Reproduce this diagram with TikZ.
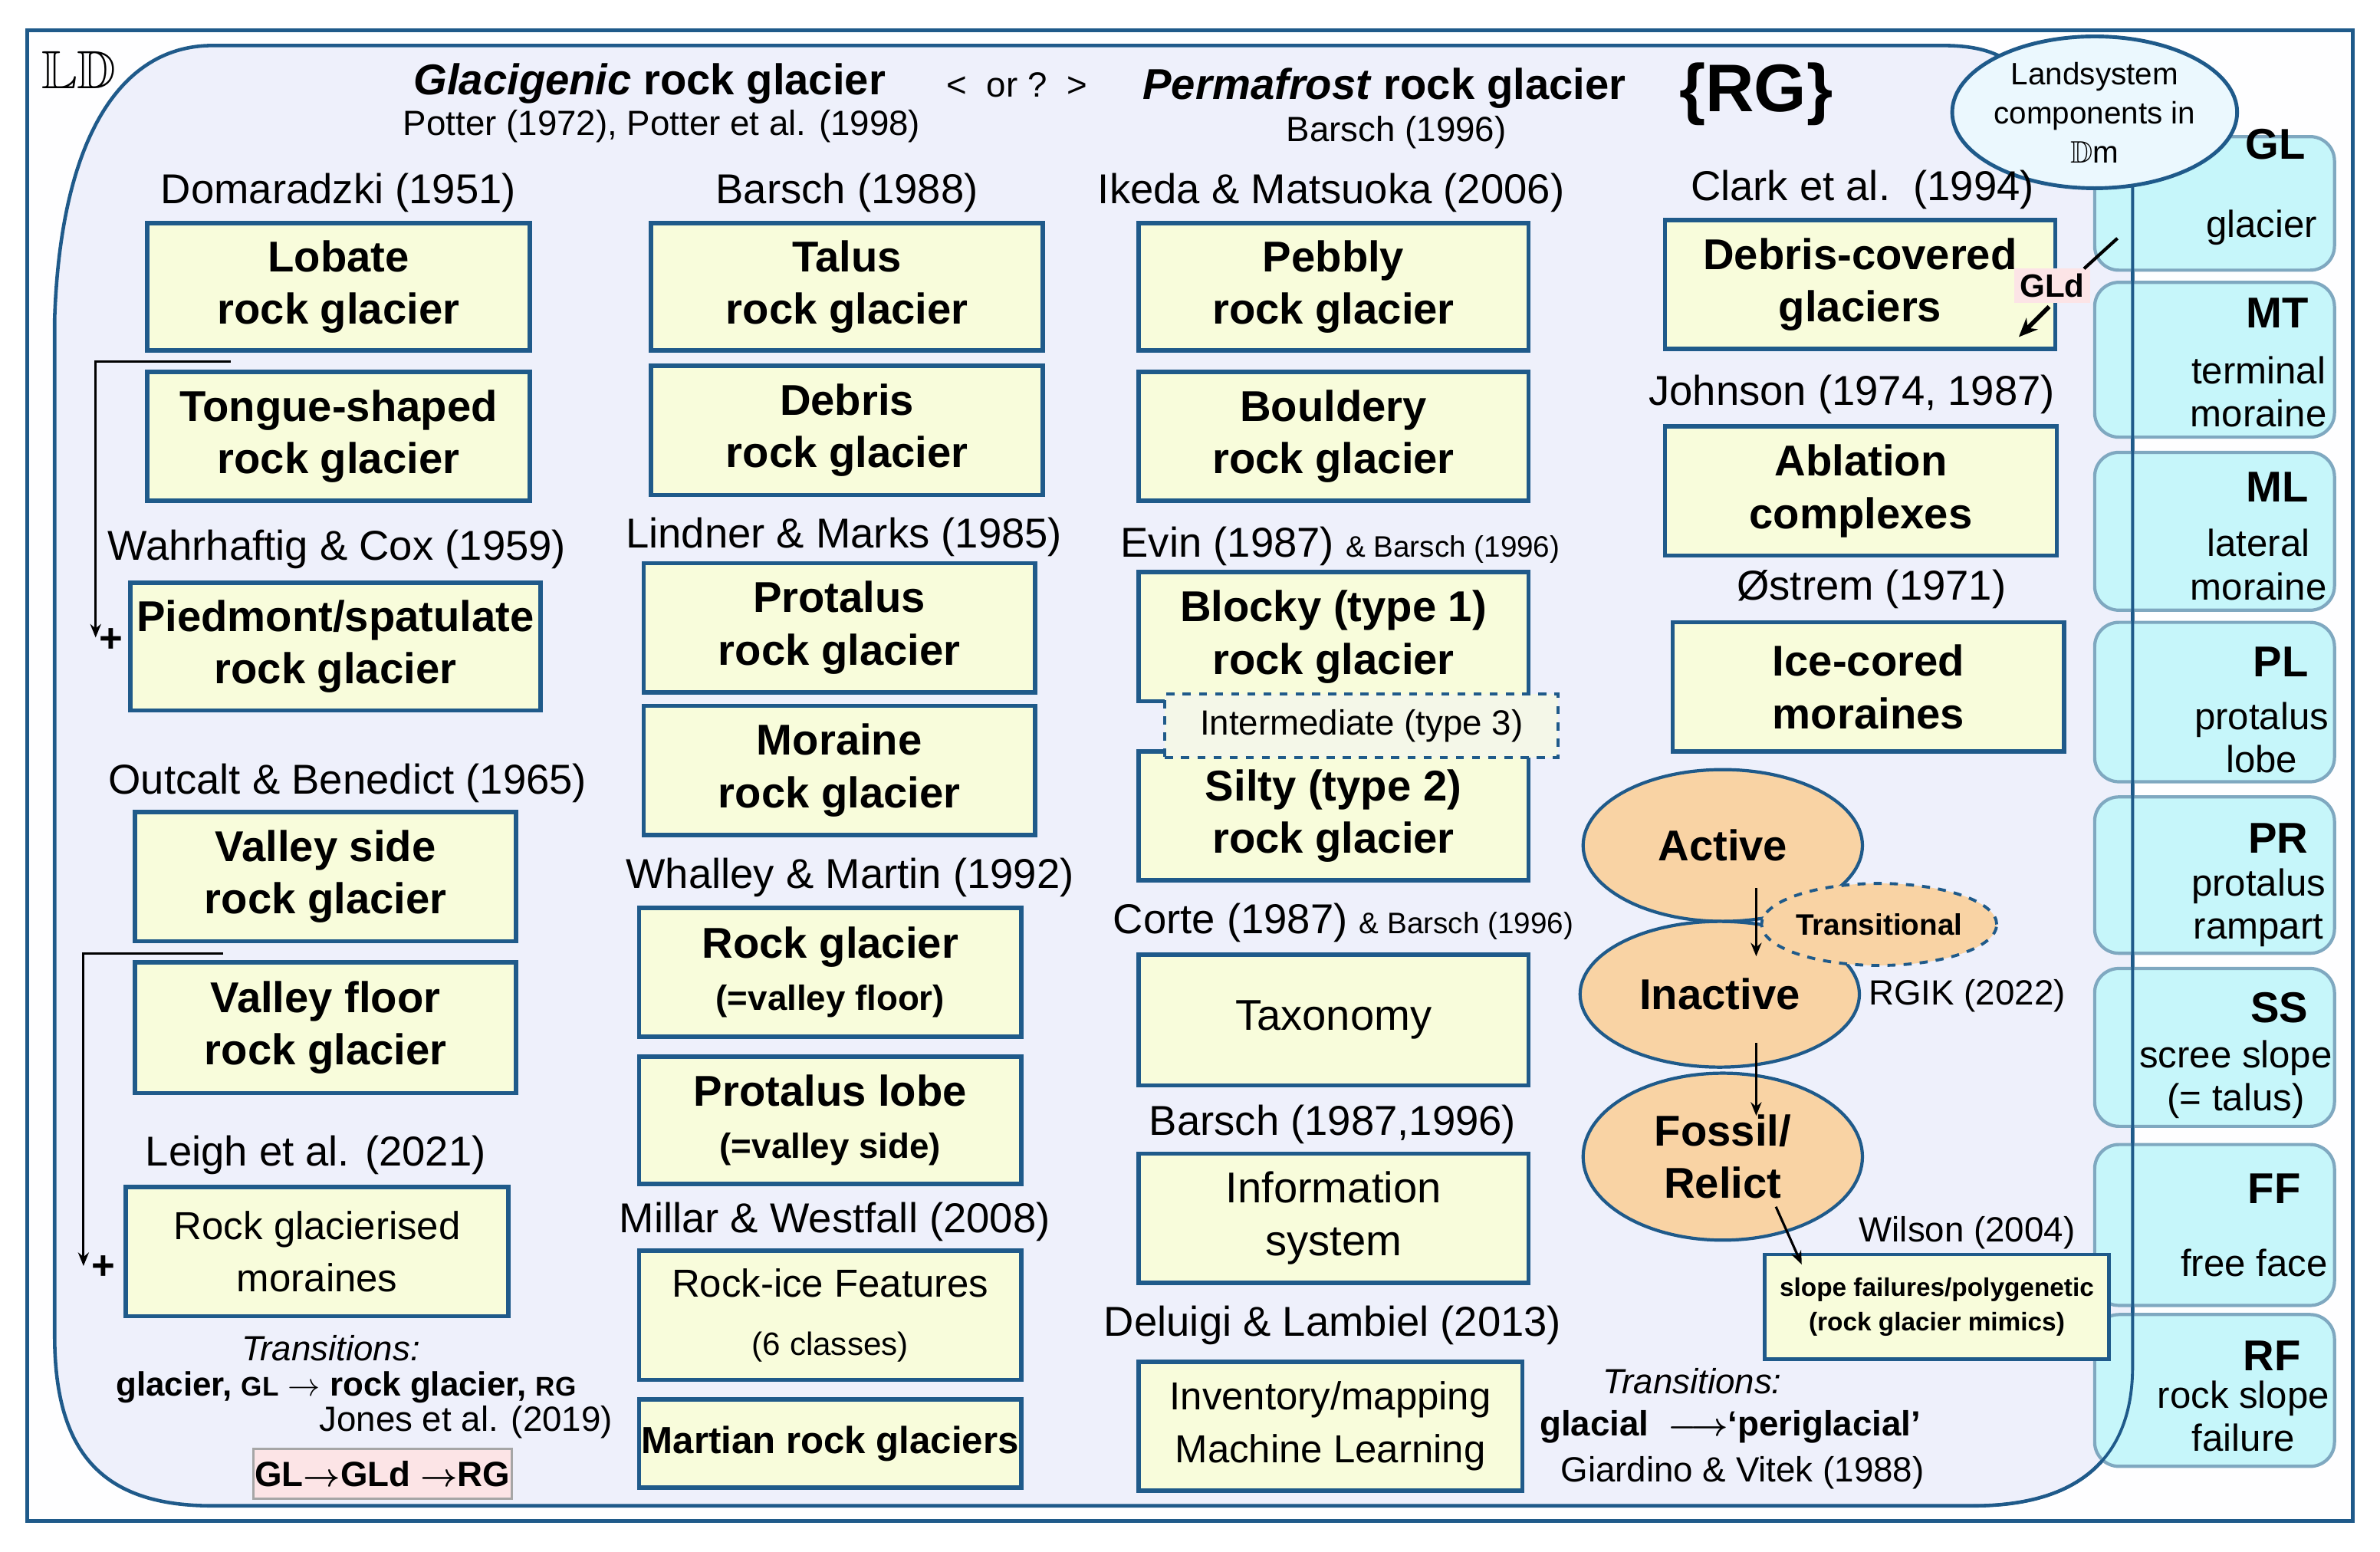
\documentclass[tikz,border=0pt]{standalone}
\usepackage{amsmath}
\usepackage{amssymb}
\usepackage{fontspec}
\setmainfont{Liberation Sans}
\usetikzlibrary{shapes.geometric,arrows.meta}
\definecolor{frameb}{HTML}{1F5A8A}
\definecolor{boxy}{HTML}{F8FCDB}
\definecolor{lav}{HTML}{EEF0FB}
\definecolor{cyanb}{HTML}{C6F6FA}
\definecolor{cyanl}{HTML}{7FA8C0}
\definecolor{orangef}{HTML}{F9D3A4}
\definecolor{pinkf}{HTML}{FCE4E6}
\newcommand\fs[1]{\fontsize{#1}{\dimexpr #1pt*6/5\relax}\selectfont}
\tikzset{
 box/.style={draw=frameb,line width=1.6pt,fill=boxy,inner sep=0pt,align=center,font=\fontsize{16}{19.5}\selectfont\bfseries},
 hd/.style={font=\fontsize{15.5}{18}\selectfont,inner sep=0pt},
 sbox/.style={draw=cyanl,line width=1.2pt,fill=cyanb,rounded corners=9pt,inner sep=0pt},
 ell/.style={ellipse,draw=frameb,line width=1.2pt,fill=orangef,inner sep=0pt,align=center,font=\fontsize{16}{19.5}\selectfont\bfseries},
 arr/.style={-{Stealth[length=5pt,width=4pt]},line width=0.9pt},
}
\newcommand\bx[6]{\node[box,minimum width={(#4-#2)*0.0198cm},minimum height={(#5-#3)*0.0198cm}] (#1) at ({(#2+#4)/2},{(#3+#5)/2}) {#6};}
\newcommand\sidebox[3]{\node[sbox,minimum width={(1538-1380)*0.0198cm},minimum height={(#3-#2)*0.0198cm}] (#1) at (1459,{(#2+#3)/2}) {};}
\begin{document}
\begin{tikzpicture}[x=0.0198cm,y=-0.0198cm]
\useasboundingbox (0,0) rectangle (1568,1022.4);
\fill[white] (0,0) rectangle (1568,1022.4);
\draw[frameb,line width=1.5pt,fill=white!92!lav] (18,20) rectangle (1550,1002);
% inner region
\draw[frameb,line width=1.3pt,fill=lav] (36,880) -- (36,210) .. controls (40,90) and (80,30) .. (140,30) -- (1280,30) .. controls (1310,30) and (1320,38) .. (1330,45)
 -- (1405,110) -- (1405,900) .. controls (1405,960) and (1370,992) .. (1300,992) -- (140,992) .. controls (70,992) and (36,960) .. (36,880) -- cycle;
% right column
\sidebox{gl}{90}{178}
\sidebox{mt}{186}{288}
\sidebox{ml}{298}{402}
\sidebox{pl}{410}{515}
\sidebox{pr}{525}{628}
\sidebox{ss}{638}{742}
\sidebox{ff}{754}{860}
\sidebox{rf}{866}{966}
\draw[frameb,line width=1.1pt] (1405,115) -- (1405,900) .. controls (1405,960) and (1370,992) .. (1300,992);
\node[ellipse,draw=frameb,line width=1.4pt,fill=cyan!8,minimum width={158*0.0198cm},minimum height={100*0.0198cm},inner sep=0pt,align=center,font=\fontsize{11.5}{14.5}\selectfont] (ls) at (1380,74) {Landsystem\\components in\\$\mathbb{D}$m};
\begin{scope}[font=\fontsize{16}{18}\selectfont\bfseries]
\node[anchor=east] (tgl) at (1525,95) {GL};
\node[anchor=east] (tmt) at (1527,206) {MT};
\node[anchor=east] (tml) at (1527,321) {ML};
\node[anchor=east] (tpl) at (1527,436) {PL};
\node[anchor=east] (tpr) at (1527,552) {PR};
\node[anchor=east] (tss) at (1527,664) {SS};
\node[anchor=east] (tff) at (1522,783) {FF};
\node[anchor=east] (trf) at (1522,893) {RF};
\end{scope}
\begin{scope}[font=\fontsize{14}{16}\selectfont,align=center,inner sep=0pt]
\node[anchor=east] (dgl) at (1527,150) {glacier};
\node (dmt) at (1488,258) {terminal\\moraine};
\node (dml) at (1488,372) {lateral\\moraine};
\node (dpl) at (1490,486) {protalus\\lobe};
\node (dpr) at (1488,598) {protalus\\rampart};
\node (dss) at (1473,711) {scree slope\\(= talus)};
\node (dff) at (1485,832) {free face};
\node (drf) at (1478,933) {rock slope\\failure};
\end{scope}
% header
\node[font=\fontsize{20}{22}\selectfont] (ld) at (52,46) {$\mathbb{LD}$};
\node[font=\fontsize{16}{18}\selectfont\bfseries] (t1) at (428,55) {\textit{Glacigenic} rock glacier};
\node[font=\fontsize{13}{15}\selectfont] (t1s) at (436,83) {Potter (1972), Potter et al. (1998)};
\node[font=\fontsize{13}{15}\selectfont] (or) at (670,56) {<\ \ or ?\ \ >};
\node[font=\fontsize{16}{18}\selectfont\bfseries] (t2) at (912,58) {\textit{Permafrost} rock glacier};
\node[font=\fontsize{13}{15}\selectfont] (t2s) at (920,87) {Barsch (1996)};
\node[font=\fontsize{25}{28}\selectfont\bfseries] (rg) at (1157,62) {\{RG\}};
% column 1
\node[hd] (h11) at (223,127) {Domaradzki (1951)};
\bx{lob}{97}{147}{349}{231}{Lobate\\rock glacier}
\bx{ton}{97}{245}{349}{330}{Tongue-shaped\\rock glacier}
\node[hd] (h12) at (222,362) {Wahrhaftig \& Cox (1959)};
\bx{pie}{86}{384}{356}{468}{Piedmont/spatulate\\rock glacier}
\node[hd] (h13) at (229,516) {Outcalt \& Benedict (1965)};
\bx{vsd}{89}{535}{340}{620}{Valley side\\rock glacier}
\bx{vfl}{89}{634}{340}{720}{Valley floor\\rock glacier}
\node[hd] (h14) at (208,761) {Leigh et al. (2021)};
\bx{rgm}{83}{782}{335}{867}{\mdseries\fs{14.5}Rock glacierised\\\mdseries\fs{14.5}moraines}
\coordinate (b1a) at (152,238); \coordinate (b1b) at (63,238); \coordinate (b1c) at (63,420);
\draw[arr] (b1a) -- (b1b) -- (b1c);
\node[font=\fontsize{15}{15}\selectfont\bfseries] (p1) at (73,422) {+};
\coordinate (b2a) at (147,628); \coordinate (b2b) at (55,628); \coordinate (b2c) at (55,834);
\draw[arr] (b2a) -- (b2b) -- (b2c);
\node[font=\fontsize{15}{15}\selectfont\bfseries] (p2) at (68,835) {+};
\node[font=\fontsize{13}{15}\selectfont\itshape] (tr1) at (218,888) {Transitions:};
\node[font=\fontsize{12.5}{15}\selectfont\bfseries] (tr2) at (228,914) {glacier, {\fs{10}GL} $\rightarrow$ rock glacier, {\fs{10}RG}};
\node[font=\fontsize{13}{15}\selectfont] (tr3) at (307,937) {Jones et al. (2019)};
\node[draw=gray!70,fill=pinkf,line width=0.8pt,minimum width={170*0.0198cm},minimum height={33*0.0198cm},inner sep=0pt,font=\fontsize{13}{15}\selectfont\bfseries] (tr4) at (252,971) {GL$\boldsymbol{\rightarrow}$GLd $\boldsymbol{\rightarrow}$RG};
% column 2
\node[hd] (h21) at (558,127) {Barsch (1988)};
\bx{tal}{429}{147}{687}{231}{Talus\\rock glacier}
\bx{deb}{429}{241}{687}{326}{Debris\\rock glacier}
\node[hd] (h22) at (556,354) {Lindner \& Marks (1985)};
\bx{pro}{424}{371}{682}{456}{Protalus\\rock glacier}
\bx{mor}{424}{465}{682}{550}{Moraine\\rock glacier}
\node[hd] (h23) at (560,578) {Whalley \& Martin (1992)};
\bx{rgv}{421}{598}{673}{683}{Rock glacier\\{\fs{13}(=valley floor)}}
\bx{plv}{421}{696}{673}{780}{Protalus lobe\\{\fs{13}(=valley side)}}
\node[hd] (h24) at (550,805) {Millar \& Westfall (2008)};
\bx{rif}{421}{824}{673}{909}{\mdseries\fs{14.5}Rock-ice Features\\[2pt]{\mdseries\fs{12}(6 classes)}}
\bx{mar}{421}{922}{673}{980}{\fs{14}Martian rock glaciers}
% column 3
\node[hd] (h31) at (877,127) {Ikeda \& Matsuoka (2006)};
\bx{peb}{750}{147}{1007}{231}{Pebbly\\rock glacier}
\bx{bou}{750}{245}{1007}{330}{Bouldery\\rock glacier}
\node[hd] (h32) at (883,360) {Evin (1987) {\fs{11}\& Barsch (1996)}};
\bx{blo}{750}{377}{1007}{462}{Blocky (type 1)\\rock glacier}
\bx{sil}{750}{495}{1007}{580}{Silty (type 2)\\rock glacier}
\node[draw=frameb,dashed,line width=1.2pt,fill=lav!40!boxy,minimum width={259*0.0198cm},minimum height={42*0.0198cm},inner sep=0pt,font=\fontsize{13}{15}\selectfont] (int) at (897,478) {Intermediate (type 3)};
\node[hd] (h33) at (885,608) {Corte (1987) {\fs{11}\& Barsch (1996)}};
\bx{tax}{750}{629}{1007}{715}{\mdseries Taxonomy}
\node[hd] (h34) at (878,741) {Barsch (1987,1996)};
\bx{inf}{750}{760}{1007}{845}{\mdseries Information\\\mdseries system}
\node[hd] (h35) at (878,873) {Deluigi \& Lambiel (2013)};
\bx{inv}{750}{897}{1003}{982}{\mdseries\fs{14.5}Inventory/mapping\\\mdseries\fs{14.5}Machine Learning}
% column 4
\node[hd] (h41) at (1227,125) {Clark et al.\ \ (1994)};
\bx{dcg}{1097}{145}{1354}{230}{Debris-covered\\glaciers}
\node[fill=pinkf,inner sep=2pt,font=\fontsize{12}{14}\selectfont\bfseries] (gld) at (1352,188) {GLd};
\coordinate (g1) at (1395,157); \coordinate (g2) at (1373,177);
\draw[line width=1.2pt] (g1) -- (g2);
\coordinate (g3) at (1350,202); \coordinate (g4) at (1330,222);
\draw[-{Stealth[length=7pt,width=6pt]},line width=1.6pt] (g3) -- (g4);
\node[hd] (h42) at (1220,260) {Johnson (1974, 1987)};
\bx{abl}{1097}{281}{1355}{366}{Ablation\\complexes}
\node[hd] (h43) at (1233,388) {Østrem (1971)};
\bx{ice}{1102}{410}{1360}{495}{Ice-cored\\moraines}
\node[ell,minimum width={184*0.0198cm},minimum height={100*0.0198cm}] (act) at (1135,557) {Active};
\node[ell,minimum width={184*0.0198cm},minimum height={96*0.0198cm}] (ina) at (1133,655) {Inactive};
\node[ellipse,draw=frameb,dashed,line width=1.1pt,fill=orangef,minimum width={150*0.0198cm},minimum height={54*0.0198cm},inner sep=0pt,font=\fontsize{11}{13}\selectfont\bfseries] (trn) at (1238,609) {Transitional};
\node[ell,minimum width={184*0.0198cm},minimum height={110*0.0198cm}] (fos) at (1135,762) {Fossil/\\Relict};
\draw[arr] (1157,585) -- (1157,630);
\draw[arr] (1157,687) -- (1157,735);
\node[font=\fontsize{13}{15}\selectfont] (rgik) at (1296,656) {RGIK (2022)};
\node[font=\fontsize{13}{15}\selectfont] (wil) at (1296,812) {Wilson (2004)};
\node[draw=frameb,line width=1.3pt,fill=boxy,minimum width={227*0.0198cm},minimum height={69*0.0198cm},inner sep=0pt,align=center,font=\fontsize{9.5}{13}\selectfont\bfseries] (slp) at (1276,861) {slope failures/polygenetic\\(rock glacier mimics)};
\draw[arr] (1170,795) -- (1187,833);
\node[font=\fontsize{13}{15}\selectfont\itshape] (tr5) at (1115,910) {Transitions:};
\node[font=\fontsize{13}{15}\selectfont\bfseries] (tr6) at (1140,940) {glacial \ $\boldsymbol{\longrightarrow}$‘periglacial’};
\node[font=\fontsize{13}{15}\selectfont] (tr7) at (1148,970) {Giardino \& Vitek (1988)};
\end{tikzpicture}
\end{document}
